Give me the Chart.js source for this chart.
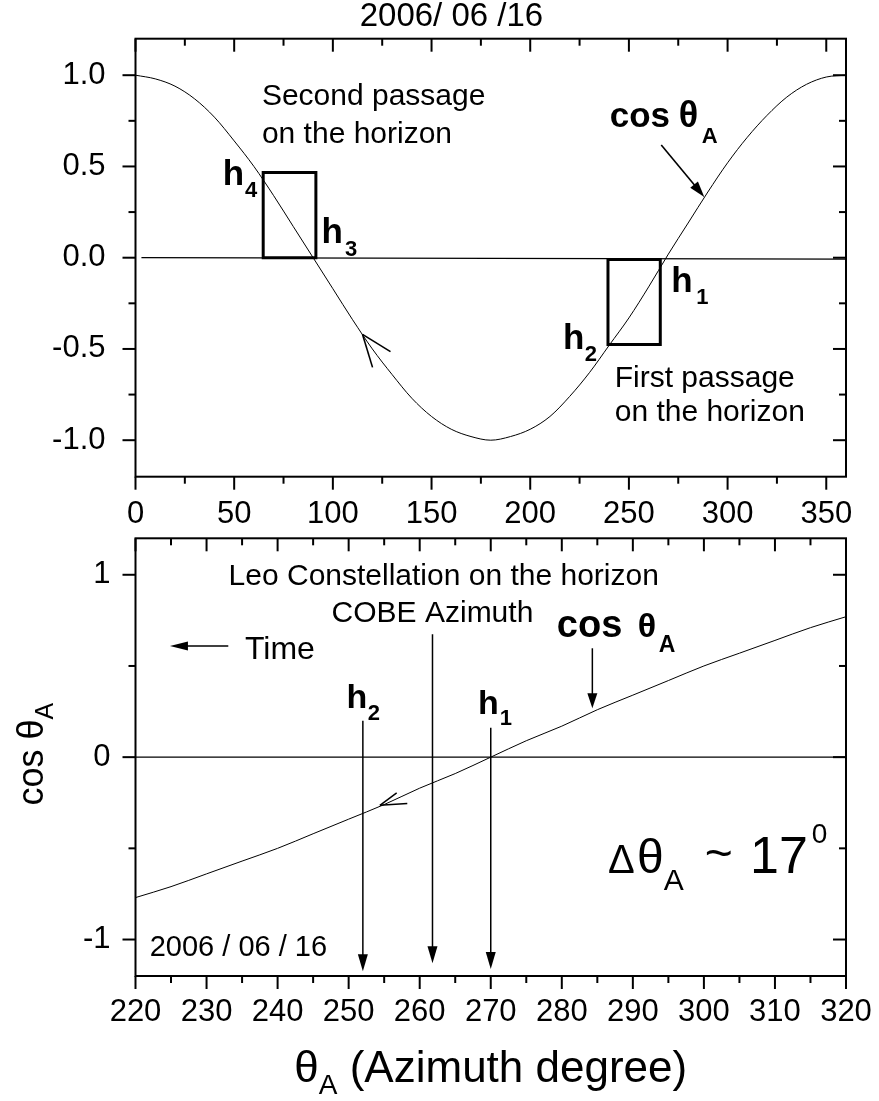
<!DOCTYPE html>
<html lang="en">
<head>
<meta charset="UTF-8" />
<title>cos θA versus azimuth, 2006/06/16</title>
<script src="https://cdn.jsdelivr.net/npm/chart.js@4.4.1/dist/chart.umd.min.js"></script>
<style>
  body { margin: 0; background: #fff; }
  #wrap { position: relative; width: 879px; height: 1101px; background: #fff; }
  canvas { position: absolute; left: 0; display: block; }
  #topChart { top: 0; }
  #bottomChart { top: 528px; }
</style>
</head>
<body>
<div id="wrap">
  <canvas id="topChart" width="879" height="528"></canvas>
  <canvas id="bottomChart" width="879" height="573"></canvas>
</div>
<script>
const FONT = "'Liberation Sans', Arial, Helvetica, sans-serif";

// top panel: one full turn of azimuth
const topTheta = [0,10,20,30,40,50,60,70,80,90,100,110,120,130,140,150,160,170,180,
                  190,200,210,220,230,240,250,260,270,280,290,300,310,320,330,340,350,360];
const topCos = [1.0,0.98,0.94,0.87,0.77,0.64,0.5,0.34,0.17,0.0,-0.17,-0.34,-0.5,-0.64,-0.77,-0.87,-0.94,-0.98,-1.0,
                -0.98,-0.94,-0.87,-0.76,-0.63,-0.48,-0.33,-0.16,0.02,0.19,0.36,0.52,0.66,0.78,0.88,0.95,0.99,1.0];
const horizonTheta = [3, 360];
const horizonCos = [0, -0.008];
const box1Theta = [64.7, 64.7, 91.4, 91.4, 64.7];   // h4 - h3
const box1Cos = [0, 0.467, 0.467, 0, 0];
const box2Theta = [239.4, 239.4, 265.9, 265.9, 239.4]; // h2 - h1
const box2Cos = [-0.01, -0.476, -0.476, -0.01, -0.01];
const topXTicks = [0, 50, 100, 150, 200, 250, 300, 350];
const topXMinor = [25, 75, 125, 175, 225, 275, 325];
const topYTicks = [-1.0, -0.5, 0.0, 0.5, 1.0];
const topYMinor = [-0.75, -0.25, 0.25, 0.75];

// bottom panel: zoom on 220 - 320 degrees
const bottomTheta = [220,225,230,235,240,245,250,255,260,265,270,275,280,285,290,295,300,305,310,315,320];
const bottomCos = [-0.77,-0.71,-0.64,-0.57,-0.5,-0.42,-0.34,-0.26,-0.17,-0.09,0,0.09,0.17,0.26,0.34,0.42,0.5,0.57,0.64,0.71,0.77];
const zeroTheta = [220, 320];
const zeroCos = [0, 0];
const bottomXTicks = [220, 230, 240, 250, 260, 270, 280, 290, 300, 310, 320];
const bottomXMinor = [225, 235, 245, 255, 265, 275, 285, 295, 305, 315];
const bottomYTicks = [-1, 0, 1];
const bottomYMinor = [-0.5, 0.5];

// vertical markers: h2, COBE azimuth, h1
const markTheta = [252, 261.8, 270];
const markFrom = [0.2, 0.674, 0.161];
const markTo = [-1.174, -1.13, -1.161];

const pts = (xs, ys) => xs.map((x, i) => ({ x, y: ys[i] }));
const fnt = (size, bold) => (bold ? 'bold ' : '') + size + 'px ' + FONT;

function line(ctx, x1, y1, x2, y2) {
  ctx.beginPath(); ctx.moveTo(x1, y1); ctx.lineTo(x2, y2); ctx.stroke();
}

function arrow(ctx, x1, y1, x2, y2, len, wid) {
  const a = Math.atan2(y2 - y1, x2 - x1);
  const c = Math.cos(a), s = Math.sin(a);
  line(ctx, x1, y1, x2 - c * len * 0.7, y2 - s * len * 0.7);
  ctx.beginPath();
  ctx.moveTo(x2, y2);
  ctx.lineTo(x2 - len * c + wid / 2 * s, y2 - len * s - wid / 2 * c);
  ctx.lineTo(x2 - len * c - wid / 2 * s, y2 - len * s + wid / 2 * c);
  ctx.closePath();
  ctx.fill();
}

// text made of pieces, each with its own font and offset from the anchor
function rich(ctx, x, y, parts) {
  parts.forEach(p => {
    ctx.font = p.font;
    ctx.fillText(p.t, x + (p.dx || 0), y + (p.dy || 0));
  });
}

function frame(chart, xMaj, xMin, yMaj, yMin) {
  const { ctx, chartArea: a, scales: { x, y } } = chart;
  ctx.lineWidth = 2;
  ctx.strokeRect(a.left, a.top, a.right - a.left, a.bottom - a.top);
  const big = 13, small = 7;
  [[xMaj, big], [xMin, small]].forEach(([vals, len]) => vals.forEach(v => {
    const px = x.getPixelForValue(v);
    line(ctx, px, a.bottom, px, a.bottom + len);
    line(ctx, px, a.top, px, a.top + len);
  }));
  [[yMaj, big], [yMin, small]].forEach(([vals, len]) => vals.forEach(v => {
    const py = y.getPixelForValue(v);
    line(ctx, a.left - len, py, a.left, py);
    line(ctx, a.right - len, py, a.right, py);
  }));
}

// keep the label overhang out of the layout so the plot box stays where it is put
function noOverhang(s) {
  s.paddingTop = 0; s.paddingBottom = 0; s.paddingLeft = 0; s.paddingRight = 0;
}

function scalesFor(xmin, xmax, xstep, ymin, ymax, ystep, yfmt, xHeight, xPad, yPad) {
  const tickFont = { family: FONT, size: 31 };
  return {
    x: {
      type: 'linear', min: xmin, max: xmax,
      grid: { display: false, drawTicks: false }, border: { display: false },
      ticks: { stepSize: xstep, includeBounds: false, autoSkip: false, maxRotation: 0,
               padding: xPad, color: '#000', font: tickFont },
      afterFit: s => { s.height = xHeight; noOverhang(s); }
    },
    y: {
      type: 'linear', min: ymin, max: ymax,
      grid: { display: false, drawTicks: false }, border: { display: false },
      ticks: { stepSize: ystep, includeBounds: false, padding: yPad, color: '#000',
               font: tickFont, callback: yfmt },
      afterFit: s => { s.width = 135.5; noOverhang(s); }
    }
  };
}

const curveStyle = { borderColor: '#000', borderWidth: 1, pointRadius: 0, fill: false };
const baseOptions = {
  responsive: false, animation: false, events: [],
  plugins: { legend: { display: false }, tooltip: { enabled: false } }
};

const topDecor = {
  id: 'topDecor',
  afterDraw(chart) {
    const { ctx, scales: { x, y } } = chart;
    const X = v => x.getPixelForValue(v), Y = v => y.getPixelForValue(v);
    ctx.save();
    ctx.fillStyle = '#000'; ctx.strokeStyle = '#000';
    ctx.textAlign = 'left'; ctx.textBaseline = 'alphabetic';
    frame(chart, topXTicks, topXMinor, topYTicks, topYMinor);

    ctx.font = fnt(33); ctx.fillText('2006/ 06 /16', X(113.6), Y(1.267));
    ctx.font = fnt(30);
    ctx.fillText('Second passage', X(64.05), Y(0.837));
    ctx.fillText('on the horizon', X(64.05), Y(0.628));
    ctx.fillText('First passage', X(242.8), Y(-0.711));
    ctx.fillText('on the horizon', X(242.8), Y(-0.895));

    const h = (n, xv, yv, dx, dy) => rich(ctx, X(xv), Y(yv), [
      { t: 'h', font: fnt(35, true) }, { t: n, font: fnt(22, true), dx, dy }]);
    h('4', 44.15, 0.397, 22.3, 12);
    h('3', 94.3, 0.080, 23.3, 13.3);
    h('1', 271.5, -0.189, 25, 11.6);
    h('2', 216.6, -0.5, 21.7, 11.7);

    rich(ctx, X(240.3), Y(0.718), [
      { t: 'cos', font: fnt(35, true) },
      { t: 'θ', font: fnt(36, true), dx: 69 },
      { t: 'A', font: fnt(22, true), dx: 92, dy: 16 }]);

    ctx.lineWidth = 1.6;
    arrow(ctx, X(266.4), Y(0.617), X(288.2), Y(0.333), 16, 10);
    // direction of time along the curve
    line(ctx, X(115), Y(-0.42), X(129.2), Y(-0.515));
    line(ctx, X(115), Y(-0.42), X(120.1), Y(-0.601));
    ctx.restore();
  }
};

const bottomDecor = {
  id: 'bottomDecor',
  afterDraw(chart) {
    const { ctx, chartArea: a, scales: { x, y } } = chart;
    const X = v => x.getPixelForValue(v), Y = v => y.getPixelForValue(v);
    ctx.save();
    ctx.fillStyle = '#000'; ctx.strokeStyle = '#000';
    ctx.textAlign = 'left'; ctx.textBaseline = 'alphabetic';
    frame(chart, bottomXTicks, bottomXMinor, bottomYTicks, bottomYMinor);

    ctx.font = fnt(30);
    ctx.fillText('Leo Constellation on the horizon', X(233.1), Y(0.945));
    ctx.fillText('COBE Azimuth', X(247.6), Y(0.743));
    ctx.font = fnt(32);
    ctx.fillText('Time', X(235.4), Y(0.537));
    ctx.font = fnt(29);
    ctx.fillText('2006 / 06 / 16', X(222.0), Y(-1.088));

    rich(ctx, X(279.3), Y(0.661), [
      { t: 'cos', font: fnt(38, true) },
      { t: 'θ', font: fnt(34, true), dx: 81 },
      { t: 'A', font: fnt(23, true), dx: 102, dy: 15 }]);

    const h = (n, xv, yv, dx, dy) => rich(ctx, X(xv), Y(yv), [
      { t: 'h', font: fnt(34, true) }, { t: n, font: fnt(22, true), dx, dy }]);
    h('2', 249.7, 0.268, 21.3, 11.7);
    h('1', 268.2, 0.236, 21.7, 11);

    rich(ctx, X(286.5), Y(-0.637), [
      { t: 'Δ', font: fnt(40) },
      { t: 'θ', font: fnt(48), dx: 29 },
      { t: 'A', font: fnt(30), dx: 55.7, dy: 17 },
      { t: '~', font: fnt(48), dx: 96.7, dy: -4 },
      { t: '17', font: fnt(52), dx: 142 },
      { t: '0', font: fnt(28), dx: 203.7, dy: -30 }]);

    ctx.lineWidth = 1.5;
    markTheta.forEach((t, i) => arrow(ctx, X(t), Y(markFrom[i]), X(t), Y(markTo[i]), 17, 10));
    arrow(ctx, X(284.3), Y(0.597), X(284.3), Y(0.268), 15, 10);
    arrow(ctx, X(233.06), Y(0.61), X(224.85), Y(0.61), 18, 9);
    line(ctx, X(254.4), Y(-0.264), X(256.76), Y(-0.196));
    line(ctx, X(254.4), Y(-0.264), X(258.25), Y(-0.254));

    // axis titles
    const cx = (a.left + a.right) / 2;
    const ttl = [{ t: 'θ', size: 44 }, { t: 'A', size: 28, dy: 12 }, { t: ' (Azimuth degree)', size: 44 }];
    let w = 0;
    ttl.forEach(p => { ctx.font = fnt(p.size); p.w = ctx.measureText(p.t).width; w += p.w; });
    let px = cx - w / 2;
    ttl.forEach(p => { ctx.font = fnt(p.size); ctx.fillText(p.t, px, a.bottom + 105.7 + (p.dy || 0)); px += p.w; });

    const ytl = [{ t: 'cos θ', size: 36 }, { t: 'A', size: 25, dy: 10 }];
    w = 0;
    ytl.forEach(p => { ctx.font = fnt(p.size); p.w = ctx.measureText(p.t).width; w += p.w; });
    ctx.translate(a.left - 93, (a.top + a.bottom) / 2 - 3);
    ctx.rotate(-Math.PI / 2);
    px = -w / 2;
    ytl.forEach(p => { ctx.font = fnt(p.size); ctx.fillText(p.t, px, p.dy || 0); px += p.w; });
    ctx.restore();
  }
};

new Chart(document.getElementById('topChart'), {
  type: 'line',
  data: {
    datasets: [
      { ...curveStyle, data: pts(topTheta, topCos), cubicInterpolationMode: 'monotone' },
      { ...curveStyle, data: pts(horizonTheta, horizonCos), borderWidth: 1.3 },
      { ...curveStyle, data: pts(box1Theta, box1Cos), borderWidth: 3, borderJoinStyle: 'miter', borderCapStyle: 'square' },
      { ...curveStyle, data: pts(box2Theta, box2Cos), borderWidth: 3, borderJoinStyle: 'miter', borderCapStyle: 'square' }
    ]
  },
  options: {
    ...baseOptions,
    layout: { padding: { top: 38.7, right: 33, left: 0, bottom: 0 } },
    scales: scalesFor(0, 360, 50, -1.2, 1.2, 0.5, v => v.toFixed(1), 51.3, 19, 30)
  },
  plugins: [topDecor]
});

new Chart(document.getElementById('bottomChart'), {
  type: 'line',
  data: {
    datasets: [
      { ...curveStyle, data: pts(bottomTheta, bottomCos), cubicInterpolationMode: 'monotone' },
      { ...curveStyle, data: pts(zeroTheta, zeroCos), borderWidth: 1.2 }
    ]
  },
  options: {
    ...baseOptions,
    layout: { padding: { top: 10.3, right: 33, left: 0, bottom: 0 } },
    scales: scalesFor(220, 320, 10, -1.2, 1.2, 1, v => String(v), 125, 18, 25)
  },
  plugins: [bottomDecor]
});
</script>
</body>
</html>
